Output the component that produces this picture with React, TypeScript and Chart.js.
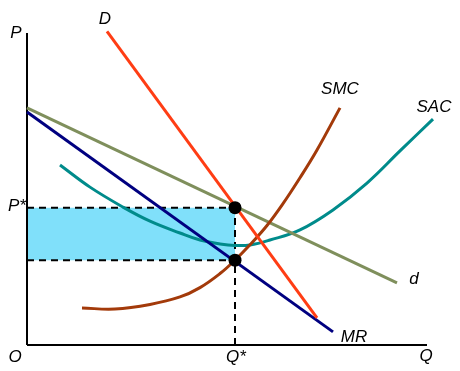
import React, { useEffect, useRef } from "react";
import { Chart, registerables } from "chart.js";

Chart.register(...registerables);

// Equilibrium values
const Q_STAR = 52;
const P_STAR = 44;
const MC_AT_QSTAR = 27.2;

// Curves (q, p)
const demandD = [ { x: 20, y: 100.5 }, { x: 72.5, y: 8.7 } ];
const marginalRevenue = [ { x: 0, y: 74.7 }, { x: 76.5, y: 4.2 } ];
const perceivedDemand = [ { x: 0, y: 76 }, { x: 92.5, y: 19.9 } ];
const smcQ = [13.75, 22, 30.75, 38.25, 43.25, 48.25, 52, 55.75, 60, 64, 68.25, 72.5, 78.25];
const smcP = [11.86, 11.54, 13.0, 15.4, 18.4, 22.9, 27.2, 32.1, 38.3, 45.3, 53.6, 62.5, 76.0];
const sacQ = [8.25, 15.75, 24, 30.75, 38.25, 43.25, 48.25, 52, 55.75, 60.75, 68.25, 76.5, 85, 93.25, 101.5];
const sacP = [57.7, 50.6, 44.2, 39.7, 35.9, 33.65, 32.4, 31.9, 32.05, 33.65, 36.9, 43.3, 51.9, 62.2, 72.4];

// Labels: text, q, p
const labelText = ["P", "D", "SMC", "SAC", "d", "MR", "Q", "O", "Q*", "P*"];
const labelQ = [-2.75, 19.5, 78.25, 101.75, 96.75, 81.75, 99.75, -3, 52.25, -2.5];
const labelP = [100, 104.5, 82.1, 76.3, 21.1, 2.6, -3.5, -3.85, -3.85, 44.5];

const zip = (xs: number[], ys: number[]) => xs.map((x, i) => ({ x, y: ys[i] }));

const labelPlugin = {
  id: "curveLabels",
  afterDraw(chart: any) {
    const { ctx, scales } = chart;
    ctx.save();
    ctx.font = "italic 17px 'Liberation Sans', Arial, sans-serif";
    ctx.fillStyle = "#000";
    ctx.textAlign = "center";
    ctx.textBaseline = "middle";
    labelText.forEach((t, i) => {
      ctx.fillText(t, scales.x.getPixelForValue(labelQ[i]), scales.y.getPixelForValue(labelP[i]));
    });
    ctx.restore();
  },
};

export default function App() {
  const ref = useRef<HTMLCanvasElement | null>(null);
  useEffect(() => {
    if (!ref.current) return;
    const line = (data: any[], color: string, order: number, extra: any = {}) => ({
      type: "line",
      data,
      borderColor: color,
      borderWidth: 3,
      pointRadius: 0,
      fill: false,
      clip: false,
      order,
      ...extra,
    });
    const chart = new Chart(ref.current, {
      type: "line",
      data: {
        datasets: [
          line([{ x: 0, y: P_STAR }, { x: Q_STAR, y: P_STAR }], "rgba(0,0,0,0)", 100, {
            borderWidth: 0,
            fill: { value: MC_AT_QSTAR },
            backgroundColor: "#80E0FA",
          }),
          line([{ x: 0, y: 0 }, { x: 0, y: 100 }], "#000", 50, { borderWidth: 2 }),
          line([{ x: 0, y: 0 }, { x: 100, y: 0 }], "#000", 50, { borderWidth: 2 }),
          line([{ x: 0, y: P_STAR }, { x: Q_STAR, y: P_STAR }], "#000", 40, { borderWidth: 2, borderDash: [7, 5] }),
          line([{ x: 0, y: MC_AT_QSTAR }, { x: Q_STAR, y: MC_AT_QSTAR }], "#000", 40, { borderWidth: 2, borderDash: [7, 5] }),
          line([{ x: Q_STAR, y: 0 }, { x: Q_STAR, y: P_STAR }], "#000", 40, { borderWidth: 2, borderDash: [7, 5] }),
          line(zip(sacQ, sacP), "#008B8B", 12, { tension: 0.4 }),
          line(perceivedDemand, "#7F8F5C", 11),
          line(zip(smcQ, smcP), "#A33A0A", 10, { tension: 0.4 }),
          line(marginalRevenue, "#000080", 9),
          line(demandD, "#FF3D14", 8),
          line([{ x: Q_STAR, y: P_STAR }, { x: Q_STAR, y: MC_AT_QSTAR }], "rgba(0,0,0,0)", 0, {
            showLine: false,
            pointRadius: 6.5,
            pointBackgroundColor: "#000",
            pointBorderWidth: 0,
          }),
        ] as any,
      },
      options: {
        animation: false,
        responsive: false,
        events: [],
        layout: { padding: { left: 27, top: 33, right: 33, bottom: 26 } },
        scales: {
          x: { type: "linear", min: 0, max: 100, display: false },
          y: { type: "linear", min: 0, max: 100, display: false },
        },
        plugins: { legend: { display: false }, tooltip: { enabled: false } },
      },
      plugins: [labelPlugin],
    } as any);
    return () => chart.destroy();
  }, []);
  return (
    <div style={{ position: "absolute", left: 0, top: 0, width: 460, height: 371, background: "#fff" }}>
      <canvas ref={ref} width={460} height={371} />
    </div>
  );
}
